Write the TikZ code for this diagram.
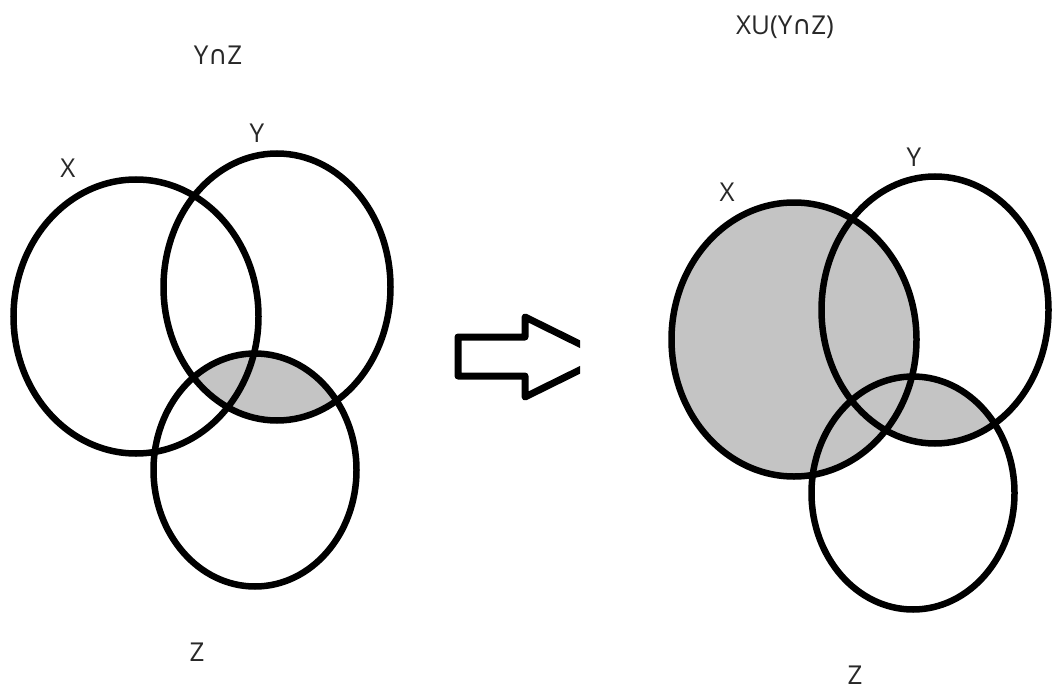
\documentclass[tikz,border=0pt]{standalone}
\usepackage{fontspec}
\setmainfont{Open Sans}
\newfontfamily\symfont{Open Sans}
\newfontfamily\capfont{DejaVu Sans}
\definecolor{venngray}{RGB}{196,196,196}
\definecolor{ink}{RGB}{40,40,40}
\newcommand{\capsym}{{\capfont\char"2229}}
\begin{document}
\begin{tikzpicture}[x=1pt,y=-1pt,
  ring/.style={draw=black,line width=6.5pt},
  lbl/.style={text=ink,font=\fontsize{26}{30}\selectfont,inner sep=0pt},
  blockarrow/.style={draw=black,line width=7pt,line join=round,fill=white}]
\useasboundingbox (0,0) rectangle (1060,690);

% ---- left diagram: Y intersect Z ----
\begin{scope}
  \clip (255,470) ellipse [x radius=101.5,y radius=116.5];
  \fill[venngray] (277,287) ellipse [x radius=113.5,y radius=133.5];
\end{scope}
\draw[ring] (136,316.5) ellipse [x radius=122.5,y radius=137];
\draw[ring] (277,287) ellipse [x radius=113.5,y radius=133.5];
\draw[ring] (255,470) ellipse [x radius=101.5,y radius=116.5];
\node[lbl] (t1) at (218,55) {Y\capsym Z};
\node[lbl] (x1) at (68,168) {X};
\node[lbl] (y1) at (257,133) {Y};
\node[lbl] (z1) at (197,652) {Z};

% ---- block arrow, tip cut off ----
\begin{scope}
  \clip (440,300) rectangle (580,420);
  \draw[blockarrow] (458,337) -- (525,337) -- (525,317) -- (606,357)
    -- (525,397) -- (525,376) -- (458,376) -- cycle;
\end{scope}

% ---- right diagram: X union (Y intersect Z) ----
\begin{scope}[shift={(658,23)}]
  \fill[venngray] (136,316.5) ellipse [x radius=122.5,y radius=137];
  \begin{scope}
    \clip (255,470) ellipse [x radius=101.5,y radius=116.5];
    \fill[venngray] (277,287) ellipse [x radius=113.5,y radius=133.5];
  \end{scope}
  \draw[ring] (136,316.5) ellipse [x radius=122.5,y radius=137];
  \draw[ring] (277,287) ellipse [x radius=113.5,y radius=133.5];
  \draw[ring] (255,470) ellipse [x radius=101.5,y radius=116.5];
\end{scope}
\node[lbl] (t2) at (785,27) {XU(Y\capsym Z)};
\node[lbl] (x2) at (727,192) {X};
\node[lbl] (y2) at (914,157) {Y};
\node[lbl] (z2) at (855,675) {Z};
\end{tikzpicture}
\end{document}
